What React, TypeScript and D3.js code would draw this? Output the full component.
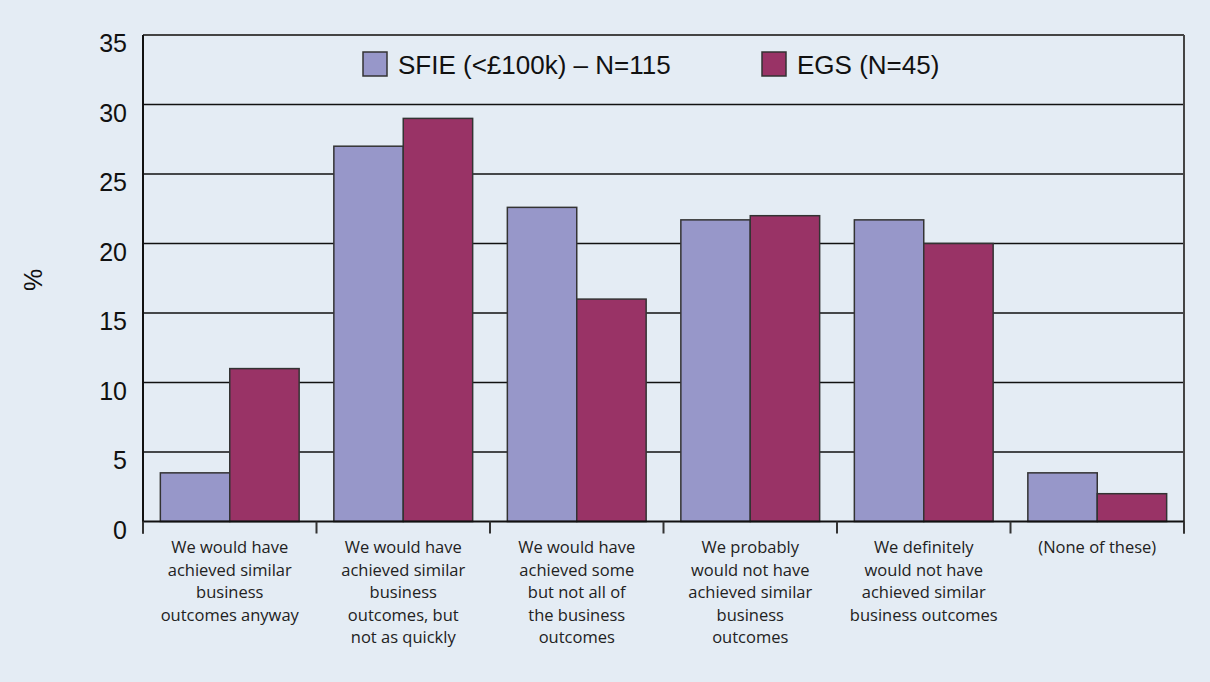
import React from 'react';
import * as d3 from 'd3';

const categories: string[][] = [
  ['We would have', 'achieved similar', 'business', 'outcomes anyway'],
  ['We would have', 'achieved similar', 'business', 'outcomes, but', 'not as quickly'],
  ['We would have', 'achieved some', 'but not all of', 'the business', 'outcomes'],
  ['We probably', 'would not have', 'achieved similar', 'business', 'outcomes'],
  ['We definitely', 'would not have', 'achieved similar', 'business outcomes'],
  ['(None of these)'],
];
const seriesNames = ['SFIE (<£100k) – N=115', 'EGS (N=45)'];
const sfieValues = [3.5, 27, 22.6, 21.7, 21.7, 3.5];
const egsValues = [11, 29, 16, 22, 20, 2];
const yTicks = [0, 5, 10, 15, 20, 25, 30, 35];
const colors = ['#9797c9', '#993366'];

const W = 1210;
const H = 682;
const left = 143;
const right = 1184;
const top = 35;
const bottom = 521.5;

export default function App() {
  const x0 = d3.scaleBand<number>().domain(categories.map((_, i) => i)).range([left, right]).padding(0);
  const bw = x0.bandwidth();
  const x1 = d3.scaleBand<number>().domain([0, 1]).range([bw * 0.1, bw * 0.9]).padding(0);
  const y = d3.scaleLinear().domain([0, 35]).range([bottom, top]);
  const series = [sfieValues, egsValues];
  const boundaries = d3.range(categories.length + 1).map((i) => left + i * bw);

  return (
    <svg width={W} height={H} style={{ position: 'absolute', left: 0, top: 0 }}>
      <rect x={0} y={0} width={W} height={H} fill="#e4ecf4" />
      {/* gridlines */}
      {yTicks.filter((t) => t > 0).map((t) => (
        <line key={t} x1={left} x2={right} y1={y(t)} y2={y(t)} stroke={t === 35 ? '#444' : '#111'} strokeWidth={t === 35 ? 2 : 1.6} />
      ))}
      {/* bars */}
      {categories.map((_, ci) =>
        series.map((vals, si) => (
          <rect
            key={`${ci}-${si}`}
            x={(x0(ci) as number) + (x1(si) as number)}
            y={y(vals[ci])}
            width={x1.bandwidth()}
            height={bottom - y(vals[ci])}
            fill={colors[si]}
            stroke="#333"
            strokeWidth={1.5}
          />
        ))
      )}
      {/* axes */}
      <line x1={left} x2={left} y1={top} y2={bottom + 12} stroke="#111" strokeWidth={2} />
      <line x1={right} x2={right} y1={top} y2={bottom + 12} stroke="#444" strokeWidth={2} />
      <line x1={left} x2={right} y1={bottom} y2={bottom} stroke="#111" strokeWidth={2} />
      {boundaries.map((bx, i) => (
        <line key={i} x1={bx} x2={bx} y1={bottom} y2={bottom + 12} stroke="#333" strokeWidth={2} />
      ))}
      {/* y tick labels */}
      {yTicks.map((t) => (
        <text key={t} x={127} y={y(t) + 17} textAnchor="end" fontFamily="'Liberation Sans', Arial, sans-serif" fontSize={25} fill="#111">
          {t}
        </text>
      ))}
      {/* y label */}
      <text
        transform="translate(42,280) rotate(-90)"
        textAnchor="middle"
        fontFamily="'Liberation Sans', Arial, sans-serif"
        fontSize={25}
        fill="#111"
      >
        %
      </text>
      {/* x labels */}
      {categories.map((lines, ci) => (
        <text key={ci} textAnchor="middle" fontFamily="'Open Sans', sans-serif" fontSize={16.5} fill="#222">
          {lines.map((ln, li) => (
            <tspan key={li} x={(x0(ci) as number) + bw / 2} y={553 + li * 22.5}>
              {ln}
            </tspan>
          ))}
        </text>
      ))}
      {/* legend */}
      {seriesNames.map((name, i) => {
        const bx = i === 0 ? 363 : 762;
        return (
          <g key={name}>
            <rect x={bx} y={52} width={24} height={24} fill={colors[i]} stroke="#333" strokeWidth={1.5} />
            <text x={bx + 35} y={74} fontFamily="'Liberation Sans', Arial, sans-serif" fontSize={26} fill="#111">
              {name}
            </text>
          </g>
        );
      })}
    </svg>
  );
}
